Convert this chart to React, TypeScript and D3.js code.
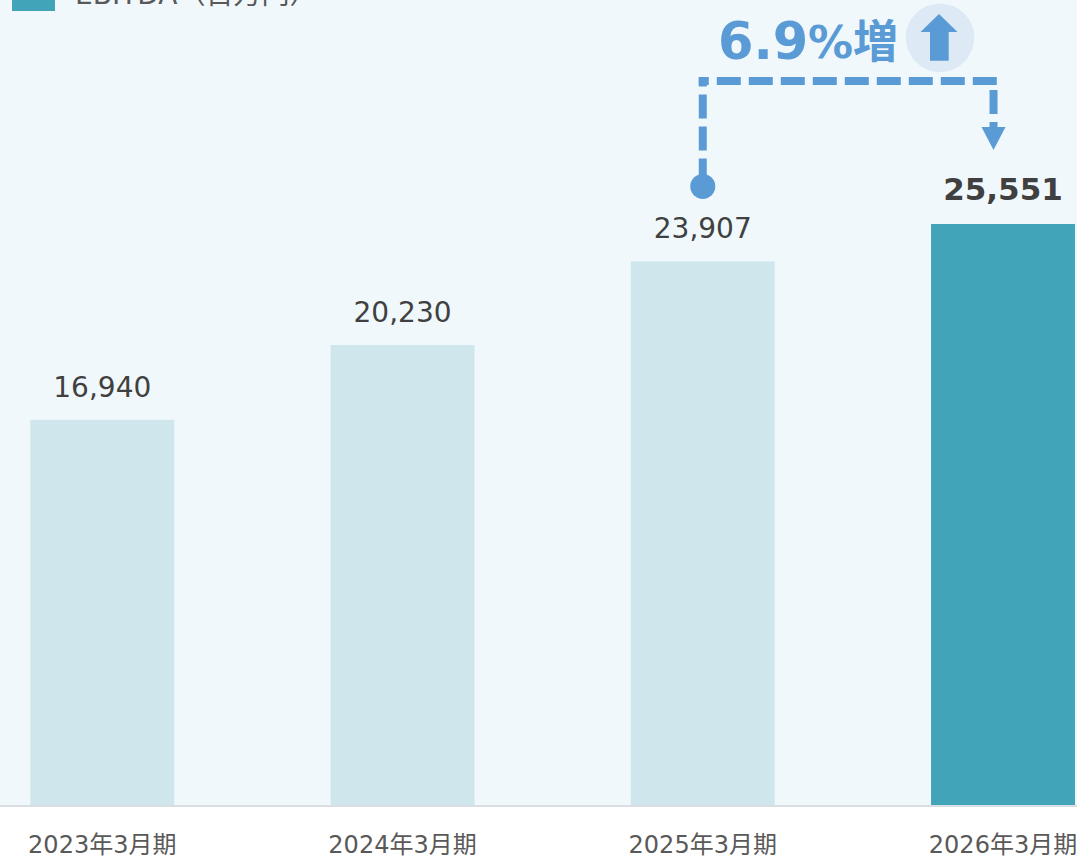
import * as d3 from 'd3';

const categories = ['2023年3月期', '2024年3月期', '2025年3月期', '2026年3月期'];
const values = [16940, 20230, 23907, 25551];
const legendLabel = 'EBITDA（百万円）';
const growthNumber = '6.9';
const growthUnit = '%増';

const width = 1077;
const height = 858;
const baseY = 805;

const bgColor = '#f0f8fc';
const lightBar = '#cfe7ec';
const darkBar = '#41a4b8';
const accent = '#5b9bd5';
const fontFamily = '"DejaVu Sans", "Noto Sans CJK JP", sans-serif';

const x = d3.scaleBand<string>().domain(categories).range([30.3, 1075]).paddingInner(0.5205).paddingOuter(0);
// scale comes from the tallest bar: 25,551 reaches y=224
const y = d3.scaleLinear().domain([0, 25551]).range([baseY, 224]);

const App = () => {
    const bw = x.bandwidth();
    const last = categories.length - 1;

    // connector runs from the 2025 bar to just left of the 2026 bar centre
    const startX = (x(categories[2]) as number) + bw / 2;
    const endX = (x(categories[3]) as number) + bw / 2 - 9.5;
    const dotY = y(values[2]) - 75;
    const lineY = 81;

    return (
        <svg
            width={width}
            height={height}
            viewBox={`0 0 ${width} ${height}`}
            style={{ position: 'absolute', left: 0, top: 0, display: 'block', fontFamily }}
        >
            <rect x={0} y={0} width={width} height={height} fill="#ffffff" />
            <rect x={0} y={0} width={width} height={baseY} fill={bgColor} />

            {/* legend, cut off by the top edge */}
            <rect x={12} y={0} width={43} height={11} fill={darkBar} />
            <text x={75} y={4} fontSize={28} fill="#595959">{legendLabel}</text>

            {/* bars */}
            {categories.map((c, i) => (
                <rect
                    key={c}
                    x={x(c)}
                    y={y(values[i])}
                    width={bw}
                    height={baseY - y(values[i])}
                    fill={i === last ? darkBar : lightBar}
                />
            ))}

            {/* value labels */}
            {categories.map((c, i) => (
                <text
                    key={c}
                    x={(x(c) as number) + bw / 2}
                    y={y(values[i]) - (i === last ? 24 : 23)}
                    textAnchor="middle"
                    fontSize={i === last ? 31 : 28}
                    fontWeight={i === last ? 700 : 400}
                    fill="#404040"
                >
                    {d3.format(',')(values[i])}
                </text>
            ))}

            {/* axis */}
            <line x1={0} x2={width} y1={baseY + 1} y2={baseY + 1} stroke="#d9dee2" strokeWidth={2} />
            {categories.map((c) => (
                <text
                    key={c}
                    x={(x(c) as number) + bw / 2}
                    y={853}
                    textAnchor="middle"
                    fontSize={24}
                    fill="#595959"
                >
                    {c}
                </text>
            ))}

            {/* growth annotation */}
            <circle cx={startX} cy={dotY} r={12.5} fill={accent} />
            <path d={`M${startX},${dotY - 4}V${lineY - 4}`} fill="none" stroke={accent} strokeWidth={8} strokeDasharray="24 8" />
            <path
                d={`M${startX - 4},${lineY}H${endX + 3.5}`}
                fill="none"
                stroke={accent}
                strokeWidth={8}
                strokeDasharray="24 8"
                strokeDashoffset={14}
            />
            <path d={`M${endX},90V127`} fill="none" stroke={accent} strokeWidth={8} strokeDasharray="24 8" />
            <path d={`M${endX - 12},127H${endX + 12}L${endX},150Z`} fill={accent} />

            <text x={718} y={59} fontSize={51} fontWeight={700} fill={accent}>{growthNumber}</text>
            <text x={808} y={58} fontSize={45} fontWeight={700} fill={accent}>{growthUnit}</text>

            <circle cx={940} cy={37.7} r={34.3} fill="#dee9f6" />
            <path d="M939,14L957.5,32H948.7V60.7H930V32H920.5Z" fill={accent} />
        </svg>
    );
};

export default App;
